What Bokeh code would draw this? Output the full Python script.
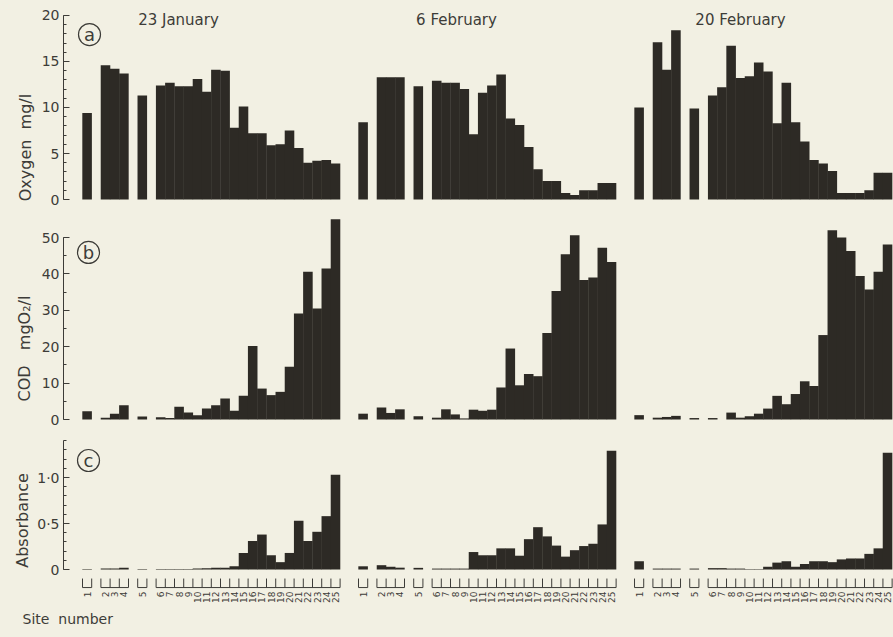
import math
from bokeh.plotting import figure
from bokeh.models import (Range1d, FixedTicker, CustomJSTickFormatter, Label, LinearAxis,
                          ColumnDataSource)
from bokeh.layouts import column
from bokeh.embed import file_html
from bokeh.resources import INLINE
from bokeh.core.properties import value

# ------------------------------------------------------------------ data
sites = list(range(1, 26))
site_groups = [[1], [2, 3, 4], [5], list(range(6, 26))]
dates = ["23 January", "6 February", "20 February"]

oxygen_jan23 = [9.4, 14.6, 14.2, 13.7, 11.3, 12.4, 12.7, 12.3, 12.3, 13.1, 11.7, 14.1, 14.0,
                7.8, 10.1, 7.2, 7.2, 5.9, 6.0, 7.5, 5.6, 4.0, 4.2, 4.3, 3.9]
oxygen_feb06 = [8.4, 13.3, 13.3, 13.3, 12.3, 12.9, 12.7, 12.7, 12.0, 7.1, 11.6, 12.4, 13.6,
                8.8, 8.1, 5.7, 3.3, 2.0, 2.0, 0.7, 0.5, 1.0, 1.0, 1.8, 1.8]
oxygen_feb20 = [10.0, 17.1, 14.1, 18.4, 9.9, 11.3, 12.2, 16.7, 13.2, 13.4, 14.9, 13.9, 8.3,
                12.7, 8.4, 6.3, 4.3, 3.9, 3.1, 0.7, 0.7, 0.7, 1.0, 2.9, 2.9]

cod_jan23 = [2.3, 0.5, 1.6, 3.9, 0.8, 0.6, 0.4, 3.5, 1.9, 1.2, 3.0, 3.9, 5.8, 2.4, 6.5,
             20.2, 8.5, 6.7, 7.6, 14.5, 29.1, 40.6, 30.5, 41.5, 55.0]
cod_feb06 = [1.6, 3.3, 1.8, 2.8, 0.9, 0.5, 2.8, 1.4, 0.3, 2.7, 2.4, 2.7, 8.8, 19.5, 9.4,
             12.5, 11.9, 23.8, 35.3, 45.4, 50.6, 38.3, 39.0, 47.2, 43.3]
cod_feb20 = [1.2, 0.5, 0.7, 1.0, 0.4, 0.4, 0.0, 1.9, 0.5, 0.9, 1.6, 3.0, 6.5, 4.2, 7.0,
             10.5, 9.2, 23.2, 52.0, 50.0, 46.3, 39.4, 35.7, 40.6, 48.1]

abs_jan23 = [0.005, 0.01, 0.01, 0.02, 0.005, 0.005, 0.005, 0.005, 0.005, 0.01, 0.015, 0.02,
             0.02, 0.035, 0.18, 0.31, 0.38, 0.155, 0.08, 0.18, 0.53, 0.31, 0.41, 0.58, 1.03]
abs_feb06 = [0.035, 0.047, 0.03, 0.02, 0.018, 0.01, 0.01, 0.01, 0.01, 0.19, 0.155, 0.155,
             0.23, 0.23, 0.15, 0.33, 0.46, 0.36, 0.26, 0.14, 0.21, 0.255, 0.28, 0.49, 1.29]
abs_feb20 = [0.09, 0.01, 0.01, 0.01, 0.01, 0.015, 0.015, 0.01, 0.01, 0.005, 0.005, 0.03,
             0.075, 0.09, 0.03, 0.06, 0.09, 0.09, 0.08, 0.11, 0.12, 0.12, 0.17, 0.23, 1.27]

oxygen_ticks = [0, 5, 10, 15, 20]
cod_ticks = [0, 10, 20, 30, 40, 50]
abs_ticks = [0, 0.5, 1.0]

# ------------------------------------------------------------------ style / layout
BG = "#f2f0e3"
BAR = "#2d2a25"
INK = "#3d3c38"
FONT = "DejaVu Sans"
W = 893
AXIS_PX = 63            # page x of the y-axis line
NB = "\u00a0"

GAP_IN, GAP_OUT = 1, 2          # empty slots between site groups / between dates
slot = {}
cursor = 0
for g in site_groups:
    for s in g:
        slot[s] = cursor
        cursor += 1
    cursor += GAP_IN
COL_W = cursor - GAP_IN
COL_STEP = COL_W + GAP_OUT

K = 9.2003                       # px per site slot
X_START = -82.0 / K
X_END = X_START + W / K


def sx(px):
    """page pixel -> x data value (for decoration placement)"""
    return X_START + px / K


def base_fig(h, yr, ticks, minor, bounds, fmt=None):
    p = figure(width=W, height=h, x_range=Range1d(X_START, X_END), y_range=Range1d(*yr),
               output_backend="svg", toolbar_location=None, x_axis_location=None,
               y_axis_location=None, min_border_left=0, min_border_right=0,
               min_border_top=0, min_border_bottom=0, background_fill_color=BG,
               border_fill_color=BG, outline_line_color=None)
    p.grid.visible = False
    ax = LinearAxis(fixed_location=sx(AXIS_PX))
    ax.ticker = FixedTicker(ticks=ticks, minor_ticks=minor)
    ax.bounds = bounds
    ax.axis_line_color = INK
    ax.axis_line_width = 1
    ax.major_tick_line_color = INK
    ax.minor_tick_line_color = INK
    ax.major_tick_in = 6
    ax.major_tick_out = 0
    ax.minor_tick_in = 3
    ax.minor_tick_out = 0
    ax.major_label_text_font = FONT
    ax.major_label_text_font_size = "14px"
    ax.major_label_text_color = INK
    ax.major_label_standoff = 4
    if fmt is not None:
        ax.formatter = fmt
    p.add_layout(ax, "left")
    return p


def add_bars(p, series_list):
    xs, tops = [], []
    for c, series in enumerate(series_list):
        for s, v in zip(sites, series):
            xs.append(c * COL_STEP + slot[s] + 0.5)
            tops.append(v)
    src = ColumnDataSource(dict(x=xs, top=tops))
    p.vbar(x="x", top="top", bottom=0, width=1.04, source=src,
           fill_color=BAR, line_color=None)


def add_text(p, x, y, text, size="14px", angle=0.0, align="center", baseline="middle"):
    p.add_layout(Label(x=x, y=y, text=text, angle=angle, text_align=align,
                       text_baseline=baseline, text_font=FONT, text_font_size=size,
                       text_color=INK))


def add_letter(p, x, y, letter):
    p.scatter(x=[x], y=[y], size=22, marker="circle", fill_color=None,
              line_color=INK, line_width=1.2)
    add_text(p, x, y, letter, size="18px")


# ------------------------------------------------------------------ row a : oxygen
p1 = base_fig(208, (-0.978, 21.63), oxygen_ticks, list(range(0, 21)), (0, 20))
add_bars(p1, [oxygen_jan23, oxygen_feb06, oxygen_feb20])
title_px = [178, 456, 740]
for c, d in enumerate(dates):
    add_text(p1, sx(title_px[c]), 19.46, d, size="15px")
add_letter(p1, sx(89), 17.93, "a")
add_text(p1, sx(25), 5.65, "Oxygen" + NB + " mg/l", size="16px", angle=math.pi / 2)

# ------------------------------------------------------------------ row b : COD
p2 = base_fig(220, (-2.47, 57.97), cod_ticks, list(range(0, 51, 5)), (0, 50))
add_bars(p2, [cod_jan23, cod_feb06, cod_feb20])
add_letter(p2, sx(88), 45.9, "b")
add_text(p2, sx(24), 19.5, "COD" + NB + NB + " mgO\u2082/l", size="16px", angle=math.pi / 2)

# ------------------------------------------------------------------ row c : absorbance
abs_fmt = CustomJSTickFormatter(code="return tick == 0 ? '0' : tick.toFixed(1).replace('.', '\u00b7');")
p3 = base_fig(208, (-0.728, 1.5326), abs_ticks, [round(0.1 * i, 1) for i in range(0, 15)],
              (0, 1.4), abs_fmt)
add_bars(p3, [abs_jan23, abs_feb06, abs_feb20])
add_letter(p3, sx(88), 1.185, "c")
add_text(p3, sx(22), 0.533, "Absorbance", size="16px", angle=math.pi / 2)

# site-number brackets and labels
YB, YT, YL = -0.196, -0.098, -0.239
x0s, y0s, x1s, y1s = [], [], [], []
lab_x, lab_t = [], []
for c in range(len(dates)):
    off = c * COL_STEP
    for s in sites:
        lab_x.append(off + slot[s] + 0.5)
        lab_t.append(str(s))
    for g in site_groups:
        left = off + slot[g[0]]
        right = off + slot[g[-1]] + 1
        x0s.append(left); y0s.append(YB); x1s.append(right); y1s.append(YB)
        for e in range(left, right + 1):
            x0s.append(e); y0s.append(YB); x1s.append(e); y1s.append(YT)
p3.segment(x0=x0s, y0=y0s, x1=x1s, y1=y1s, line_color=INK, line_width=1)
p3.text(x=lab_x, y=[YL] * len(lab_x), text=lab_t, angle=math.pi / 2, text_align="right",
        text_baseline="middle", text_font=value(FONT), text_font_size="9px", text_color=INK)
add_text(p3, sx(22), -0.533, "Site" + NB + " number", size="14px", align="left")

layout = column(p1, p2, p3)
html = file_html(layout, INLINE, title="Oxygen, COD and absorbance by site")
html = html.replace("</head>", "<style>html,body{background:#f2f0e3;}</style></head>", 1)
open("out.html", "w").write(html)
